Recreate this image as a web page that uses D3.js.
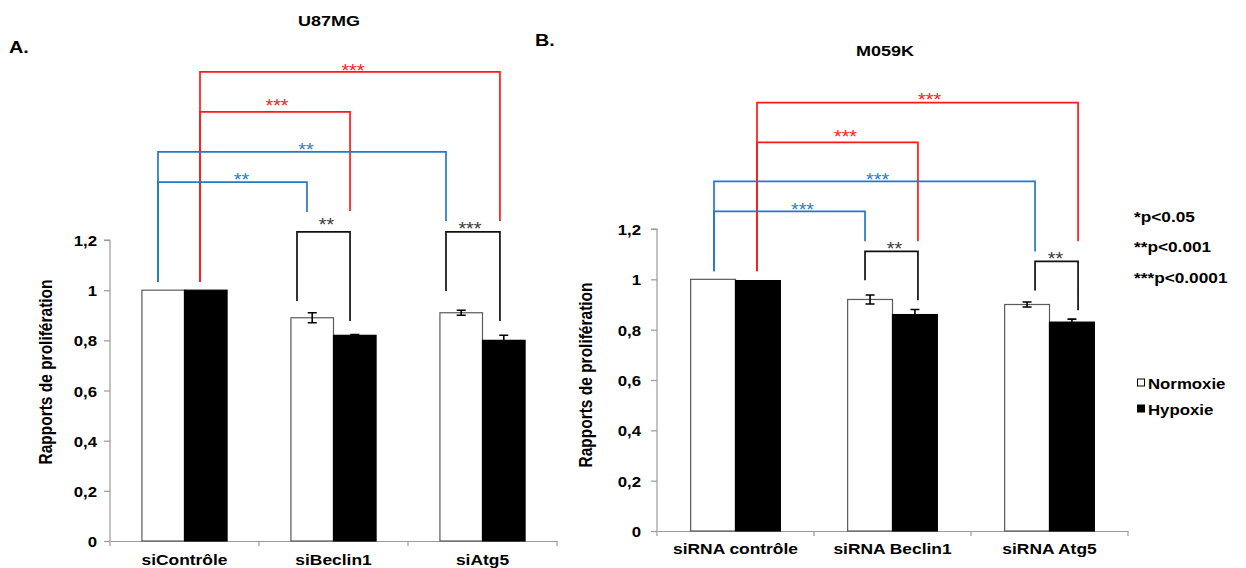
<!DOCTYPE html>
<html><head><meta charset="utf-8">
<script src="https://cdn.jsdelivr.net/npm/d3@7"></script>
<style>
html,body{margin:0;padding:0;background:#fff;}
svg{display:block;font-family:"Liberation Sans",Arial,sans-serif;}
</style></head>
<body>
<svg id="chart" width="1246" height="568"></svg>
<script>
// ---------- DATA ----------
const seriesNames = ["Normoxie", "Hypoxie"];
const categoriesA = ["siContrôle", "siBeclin1", "siAtg5"];
const normoxieA = [1.00, 0.89, 0.91];
const hypoxieA = [1.00, 0.82, 0.80];
const normoxieErrA = [0, 0.02, 0.01];
const hypoxieErrA = [0, 0.003, 0.02];

const categoriesB = ["siRNA contrôle", "siRNA Beclin1", "siRNA Atg5"];
const normoxieB = [1.00, 0.92, 0.90];
const hypoxieB = [0.995, 0.86, 0.83];
const normoxieErrB = [0, 0.018, 0.01];
const hypoxieErrB = [0, 0.02, 0.012];

const yTickValues = [0, 0.2, 0.4, 0.6, 0.8, 1, 1.2];
const yTickLabels = ["0", "0,2", "0,4", "0,6", "0,8", "1", "1,2"];
const pValueLegend = ["*p<0.05", "**p<0.001", "***p<0.0001"];
const titles = ["U87MG", "M059K"];
const panelLetters = ["A.", "B."];
const yTitle = "Rapports de prolifération";

// significance brackets: kind, label, bracket level (data units),
// leg A [category index, leg bottom], leg B [category index, leg bottom]
const sigA = [
  {kind: "hyp",  label: "***", level: 1.870, a: [0, 1.033], b: [2, 1.276]},
  {kind: "hyp",  label: "***", level: 1.711, a: [0, 1.033], b: [1, 1.316]},
  {kind: "norm", label: "**",  level: 1.551, a: [0, 1.033], b: [2, 1.276]},
  {kind: "norm", label: "**",  level: 1.431, a: [0, 1.033], b: [1, 1.312]},
  {kind: "pair", label: "**",  level: 1.232, a: [1, 0.957], b: [1, 0.877]},
  {kind: "pair", label: "***", level: 1.232, a: [2, 0.997], b: [2, 0.877]}
];
const sigB = [
  {kind: "hyp",  label: "***", level: 1.702, a: [0, 1.032], b: [2, 1.151]},
  {kind: "hyp",  label: "***", level: 1.544, a: [0, 1.032], b: [1, 1.151]},
  {kind: "norm", label: "***", level: 1.389, a: [0, 1.032], b: [2, 1.111]},
  {kind: "norm", label: "***", level: 1.270, a: [0, 1.032], b: [1, 1.151]},
  {kind: "pair", label: "**",  level: 1.111, a: [1, 0.996], b: [1, 0.917]},
  {kind: "pair", label: "**",  level: 1.071, a: [2, 0.956], b: [2, 0.877]}
];

// ---------- LAYOUT (pixels, styles) ----------
const layoutA = {
  xRange: [110, 557], yRange: [541, 240], tickLabelGap: 13,
  catLabelY: 565, yTitleX: 52, yTitleY: 372,
  title: {x: 329, y: 26}, letter: {x: 9, y: 53},
  legColumns: [[0.604, 0.617], [0.604, 0.611], [0.322, 0.255], [0.322, 0.322], [0.255, 0.611], [0.255, 0.617]],
  labelDx: [3, 2, 4, 9, 3, -3], labelDy: [-5, -10, -6, -7, -11, -7]
};
const layoutB = {
  xRange: [657, 1128], yRange: [531, 229], tickLabelGap: 16,
  catLabelY: 554, yTitleX: 592, yTitleY: 375,
  title: {x: 885, y: 56}, letter: {x: 535, y: 46},
  legColumns: [[0.637, 0.682], [0.637, 0.662], [0.363, 0.408], [0.363, 0.325], [0.325, 0.662], [0.408, 0.682]],
  labelDx: [12, 8, 3, 13, 3, -1], labelDy: [-7, -10, -6, -6, -7, -7]
};
const colors = {hyp: "#ff1a1a", norm: "#2479c7", pair: "#111111"};
const labelColors = {hyp: "#ff2020", norm: "#2b80cc", pair: "#3a3a3a"};
const FONT = "'Liberation Sans', Arial, sans-serif";
const SX = 1.2; // horizontal stretch of the original rendering

const svg = d3.select("#chart");

function txt(g, x, y, s, o) {
  o = o || {};
  return g.append("text")
    .attr("transform", `translate(${x},${y}) scale(${o.sx || SX},1)`)
    .attr("text-anchor", o.anchor || "start")
    .attr("font-size", o.size || 14)
    .attr("font-weight", o.weight || "bold")
    .attr("fill", o.fill || "#000")
    .attr("font-family", FONT)
    .text(s);
}

function drawPanel(cats, nVals, hVals, nErr, hErr, sig, L, title, letter) {
  const g = svg.append("g");
  const x = d3.scaleBand().domain(cats).range(L.xRange).paddingInner(0).paddingOuter(0);
  const xs = d3.scaleBand().domain(seriesNames).range([0, x.bandwidth()]).paddingInner(0).paddingOuter(0.75);
  const y = d3.scaleLinear().domain([0, 1.2]).range(L.yRange);

  // y axis
  const yAxis = d3.axisLeft(y).tickValues(yTickValues).tickSize(6)
    .tickFormat((d, i) => yTickLabels[i]);
  const ya = g.append("g").attr("transform", `translate(${L.xRange[0]},0)`).call(yAxis);
  ya.select(".domain").attr("stroke", "#9a9a9a").attr("stroke-width", 1.2).attr("d", `M-6,${y(1.2)}H0V${y(0)}`);
  ya.selectAll(".tick line").attr("stroke", "#9a9a9a").attr("stroke-width", 1.2);
  ya.selectAll(".tick text")
    .attr("x", null).attr("dy", null)
    .attr("transform", `translate(${-L.tickLabelGap},5.5) scale(1.12,1)`)
    .attr("font-size", 15).attr("font-weight", "bold").attr("fill", "#000")
    .attr("font-family", FONT);

  // x axis: line + boundary ticks + centered labels
  const xa = g.append("g").attr("transform", `translate(0,${y(0)})`)
    .call(d3.axisBottom(x).tickSize(0).tickFormat(""));
  xa.select(".domain").attr("stroke", "#9a9a9a").attr("stroke-width", 1.2);
  const bounds = cats.map(c => x(c)).concat([L.xRange[1]]);
  xa.selectAll(".btick").data(bounds).join("line").attr("class", "btick")
    .attr("x1", d => d).attr("x2", d => d).attr("y1", 0).attr("y2", 5)
    .attr("stroke", "#9a9a9a").attr("stroke-width", 1.2);
  cats.forEach(c => txt(g, x(c) + x.bandwidth() / 2, L.catLabelY, c, {anchor: "middle", size: 14.5}));

  // bars
  const rows = cats.map((c, i) => ({c, vals: [
    {s: seriesNames[0], v: nVals[i], e: nErr[i]},
    {s: seriesNames[1], v: hVals[i], e: hErr[i]}]}));
  const gg = g.selectAll(".grp").data(rows).join("g").attr("class", "grp")
    .attr("transform", d => `translate(${x(d.c)},0)`);
  gg.selectAll("rect").data(d => d.vals).join("rect")
    .attr("x", d => xs(d.s)).attr("width", xs.bandwidth())
    .attr("y", d => y(d.v)).attr("height", d => y(0) - y(d.v))
    .attr("fill", d => d.s === "Normoxie" ? "#fff" : "#000")
    .attr("stroke", d => d.s === "Normoxie" ? "#5a5a5a" : "#000")
    .attr("stroke-width", 1.2);
  // error bars
  gg.selectAll(".err").data(d => d.vals.filter(v => v.e > 0)).join("path").attr("class", "err")
    .attr("d", d => {
      const cx = xs(d.s) + xs.bandwidth() / 2;
      const t = y(d.v + d.e), b = y(d.v - d.e);
      return `M${cx - 4.5},${t}H${cx + 4.5}M${cx},${t}V${b}M${cx - 4.5},${b}H${cx + 4.5}`;
    })
    .attr("stroke", "#000")
    .attr("stroke-width", 1.6).attr("fill", "none");

  // significance brackets
  sig.forEach((s, i) => {
    const xa_ = x(cats[s.a[0]]) + L.legColumns[i][0] * x.bandwidth();
    const xb_ = x(cats[s.b[0]]) + L.legColumns[i][1] * x.bandwidth();
    g.append("path")
      .attr("d", `M${xa_},${y(s.a[1])}V${y(s.level)}H${xb_}V${y(s.b[1])}`)
      .attr("fill", "none").attr("stroke", colors[s.kind]).attr("stroke-width", 1.7);
    const cy = y(s.level) + L.labelDy[i];
    txt(g, (xa_ + xb_) / 2 + L.labelDx[i], cy + 10.5, s.label,
      {anchor: "middle", size: 18, weight: "normal", fill: labelColors[s.kind], sx: 1.1});
  });

  // y title
  g.append("text")
    .attr("transform", `translate(${L.yTitleX},${L.yTitleY}) rotate(-90) scale(1,${SX})`)
    .attr("text-anchor", "middle").attr("font-size", 15.5).attr("font-weight", "bold")
    .attr("font-family", FONT).text(yTitle);

  // title + letter
  txt(g, L.title.x, L.title.y, title, {anchor: "middle", size: 15});
  txt(g, L.letter.x, L.letter.y, letter, {anchor: "start", size: 16.5});
}

drawPanel(categoriesA, normoxieA, hypoxieA, normoxieErrA, hypoxieErrA, sigA, layoutA, titles[0], panelLetters[0]);
drawPanel(categoriesB, normoxieB, hypoxieB, normoxieErrB, hypoxieErrB, sigB, layoutB, titles[1], panelLetters[1]);

// p-value legend
const lg = svg.append("g");
pValueLegend.forEach((t, i) => txt(lg, 1134, 221.5 + i * 30.5, t, {size: 15, sx: 1.15}));
// series legend
seriesNames.forEach((s, i) => {
  const cy = 383 + i * 26;
  lg.append("rect").attr("x", 1137.5).attr("y", cy - 4).attr("width", 7).attr("height", 7)
    .attr("fill", i === 0 ? "#fff" : "#000").attr("stroke", "#000").attr("stroke-width", 1);
  txt(lg, 1148, cy + 5.5, s, {size: 15, sx: 1.12});
});
</script>
</body></html>
